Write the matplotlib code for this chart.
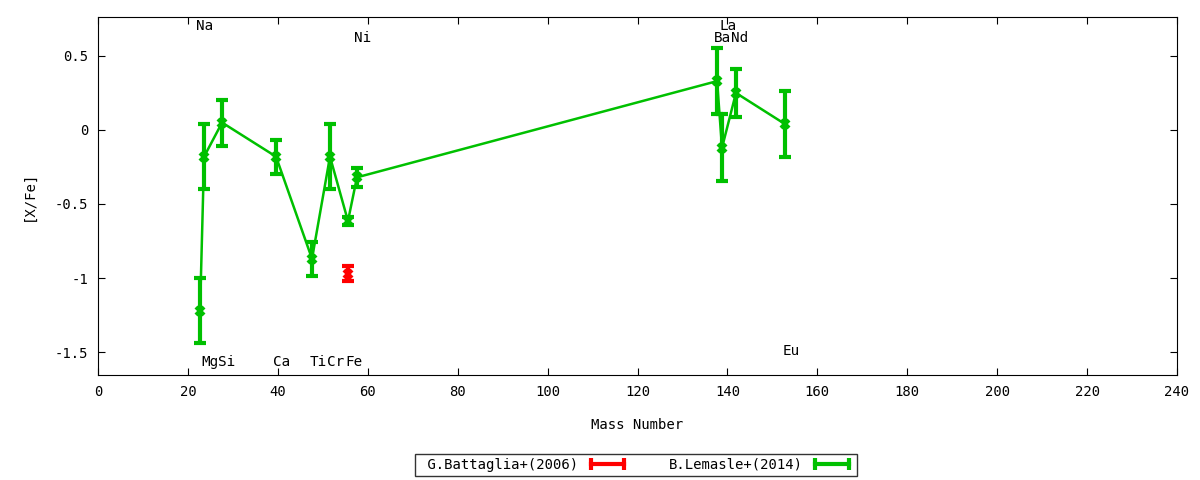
import numpy as np
import matplotlib.pyplot as plt
from matplotlib.lines import Line2D
from matplotlib.ticker import FormatStrFormatter

# B.Lemasle+(2014)
lem_x = [22.7, 23.6, 27.6, 39.6, 47.6, 51.6, 55.6, 57.6, 137.7, 138.8, 141.9, 152.8]
lem_y = [-1.22, -0.18, 0.05, -0.18, -0.87, -0.18, -0.615, -0.32, 0.33, -0.12, 0.25, 0.04]
lem_err = [0.22, 0.22, 0.155, 0.115, 0.115, 0.22, 0.025, 0.065, 0.225, 0.225, 0.16, 0.225]

# G.Battaglia+(2006)
bat_x = [55.6]
bat_y = [-0.97]
bat_err = [0.05]

# element labels
el_names = ['Na', 'Mg', 'Si', 'Ca', 'Ti', 'Cr', 'Fe', 'Ni', 'Ba', 'La', 'Nd', 'Eu']
el_x = [23.8, 24.9, 28.7, 40.9, 48.9, 52.9, 56.9, 58.9, 138.8, 140.1, 142.8, 154.1]
el_y = [0.70, -1.57, -1.57, -1.57, -1.57, -1.57, -1.57, 0.62, 0.62, 0.70, 0.62, -1.49]

plt.rcParams['font.family'] = ['DejaVu Sans Mono']
plt.rcParams['font.size'] = 10

green = '#00c000'
red = '#ff0000'

fig = plt.figure(figsize=(12, 4.8), dpi=100)
ax = fig.add_axes([98/1200, 1-375/480, (1177-98)/1200, (375-17)/480])

ax.errorbar(bat_x, bat_y, yerr=bat_err, color=red, lw=3, capsize=4, capthick=3,
            marker='x', ms=6, mew=3, ls='none')
ax.plot(lem_x, lem_y, color=green, lw=1.8)
ax.errorbar(lem_x, lem_y, yerr=lem_err, color=green, lw=3, capsize=4, capthick=3,
            marker='x', ms=6, mew=3, ls='none')

for name, x, y in zip(el_names, el_x, el_y):
    ax.text(x, y, name, ha='center', va='center', fontsize=10.3)

ax.set_xlim(0, 240)
ax.set_ylim(-1.655, 0.763)
ax.set_xticks(np.arange(0, 241, 20))
ax.set_yticks([-1.5, -1, -0.5, 0, 0.5])
ax.yaxis.set_major_formatter(FormatStrFormatter('%g'))
ax.tick_params(direction='in', top=True, right=True, length=5, pad=7)
ax.set_xlabel('Mass Number', labelpad=14)
ax.set_ylabel('[X/Fe]', labelpad=14)

handles = []
for c in [red, green]:
    line = Line2D([], [], color=c, lw=3)
    caps = Line2D([], [], color=c, marker='|', ms=9, mew=3, ls='none')
    handles.append((line, caps))

leg = ax.legend(handles, [' G.Battaglia+(2006)', 'B.Lemasle+(2014)'],
                loc='center', bbox_to_anchor=(0.53, 1 - 465/480),
                bbox_transform=fig.transFigure, numpoints=2,
                ncol=2, markerfirst=False, frameon=True, fancybox=False,
                edgecolor='black', handlelength=3.0, columnspacing=2.9,
                borderpad=0.3, handletextpad=0.6, borderaxespad=0)
leg.get_frame().set_linewidth(1)

fig.savefig('out.png', dpi=100)
